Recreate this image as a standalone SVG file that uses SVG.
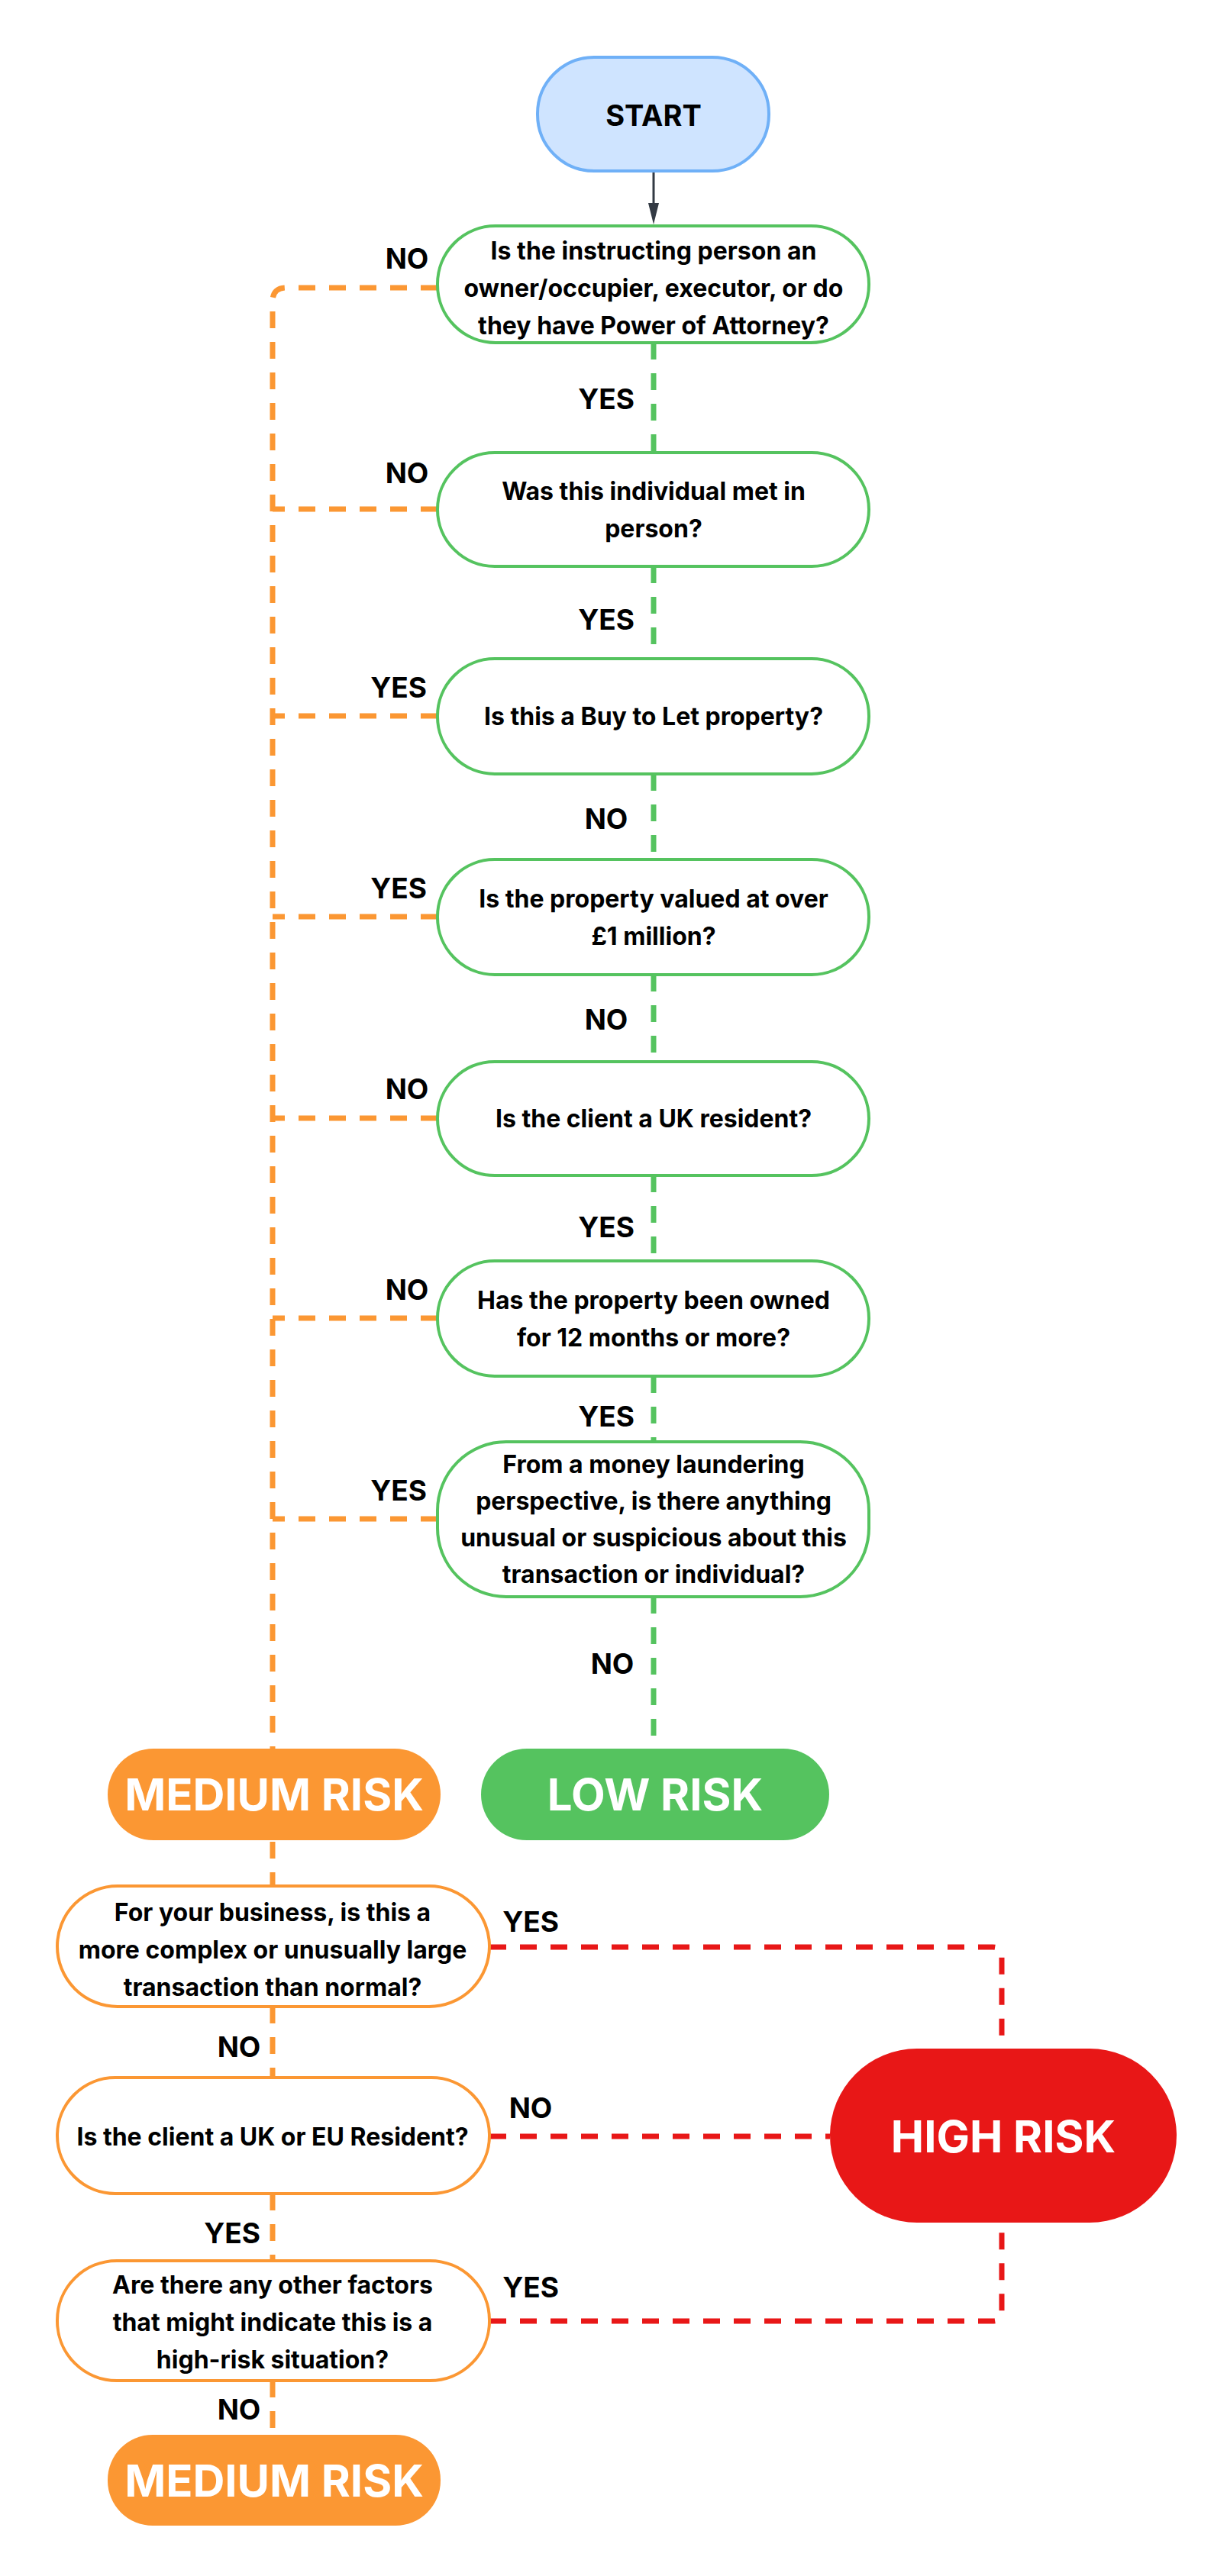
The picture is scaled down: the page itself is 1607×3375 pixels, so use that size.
<svg xmlns="http://www.w3.org/2000/svg" width="1607" height="3375" viewBox="0 0 1607 3375">
<style>
text{font-family:Inter,"Liberation Sans",sans-serif;font-weight:700;fill:#000;text-anchor:middle;dominant-baseline:central}
.q{font-size:32px}
.lb{font-size:37px}
.big{font-size:58px;fill:#fff}
.g{fill:#fff;stroke:#55c35f;stroke-width:4}
.o{fill:#fff;stroke:#fb9733;stroke-width:4}
.cg{fill:none;stroke:#55c35f;stroke-width:7;stroke-dasharray:22 18}
.co{fill:none;stroke:#fb9733;stroke-width:7;stroke-dasharray:22 18}
.cr{fill:none;stroke:#e81717;stroke-width:7;stroke-dasharray:22 18}
</style>
<rect width="1607" height="3375" fill="#fff"/>
<g id="connectors">
<path d="M856,226V272" stroke="#333a44" stroke-width="3" fill="none"/>
<path d="M849,266L856,294L863,266z" fill="#333a44"/>
<path class="cg" d="M856,449V593M856,742V863M856,1014V1126M856,1277V1391M856,1540V1652M856,1803V1889M856,2092V2291"/>
<path class="co" d="M573,377H375Q357,377 357,395V2291"/>
<path class="co" d="M573,667H357M573,938H357M573,1201H357M573,1465H357M573,1727H357M573,1990H357"/>
<path class="co" d="M357,2413V2471M357,2629V2722M357,2874V2962M357,3119V3190"/>
<path class="cr" d="M641,2551H1300Q1312,2551 1312,2563V2684M641,2799H1087M641,3041H1300Q1312,3041 1312,3029V2912"/>
</g>
<g id="start"><rect x="704" y="75" width="303" height="149" rx="74" fill="#cfe4ff" stroke="#6fb0f7" stroke-width="4"/><text x="856" y="151" style="font-size:38px">START</text></g>
<g id="q1"><rect class="g" x="573" y="296" width="565" height="153" rx="76"/><text class="q" x="856" y="328">Is the instructing person an</text><text class="q" x="856" y="377">owner/occupier, executor, or do</text><text class="q" x="856" y="426">they have Power of Attorney?</text></g>
<g id="q2"><rect class="g" x="573" y="593" width="565" height="149" rx="75"/><text class="q" x="856" y="643">Was this individual met in</text><text class="q" x="856" y="692">person?</text></g>
<g id="q3"><rect class="g" x="573" y="863" width="565" height="151" rx="75"/><text class="q" x="856" y="938">Is this a Buy to Let property?</text></g>
<g id="q4"><rect class="g" x="573" y="1126" width="565" height="151" rx="75"/><text class="q" x="856" y="1177">Is the property valued at over</text><text class="q" x="856" y="1226">£1 million?</text></g>
<g id="q5"><rect class="g" x="573" y="1391" width="565" height="149" rx="75"/><text class="q" x="856" y="1465">Is the client a UK resident?</text></g>
<g id="q6"><rect class="g" x="573" y="1652" width="565" height="151" rx="75"/><text class="q" x="856" y="1703">Has the property been owned</text><text class="q" x="856" y="1752">for 12 months or more?</text></g>
<g id="q7"><rect class="g" x="573" y="1889" width="565" height="203" rx="90"/><text class="q" x="856" y="1918">From a money laundering</text><text class="q" x="856" y="1966">perspective, is there anything</text><text class="q" x="856" y="2014">unusual or suspicious about this</text><text class="q" x="856" y="2062">transaction or individual?</text></g>
<g id="medium1"><rect x="141" y="2291" width="436" height="120" rx="60" fill="#fb9733"/><text class="big" x="359" y="2351">MEDIUM RISK</text></g>
<g id="low"><rect x="630" y="2291" width="456" height="120" rx="60" fill="#55c35f"/><text class="big" x="858" y="2351">LOW RISK</text></g>
<g id="q8"><rect class="o" x="75" y="2471" width="566" height="158" rx="79"/><text class="q" x="357" y="2505">For your business, is this a</text><text class="q" x="357" y="2554">more complex or unusually large</text><text class="q" x="357" y="2603">transaction than normal?</text></g>
<g id="q9"><rect class="o" x="75" y="2722" width="566" height="152" rx="76"/><text class="q" x="357" y="2799">Is the client a UK or EU Resident?</text></g>
<g id="q10"><rect class="o" x="75" y="2962" width="566" height="157" rx="78"/><text class="q" x="357" y="2993">Are there any other factors</text><text class="q" x="357" y="3042">that might indicate this is a</text><text class="q" x="357" y="3091">high-risk situation?</text></g>
<g id="high"><rect x="1087" y="2684" width="454" height="228" rx="114" fill="#e81717"/><text class="big" x="1314" y="2799">HIGH RISK</text></g>
<g id="medium2"><rect x="141" y="3190" width="436" height="119" rx="59" fill="#fb9733"/><text class="big" x="359" y="3250">MEDIUM RISK</text></g>
<g id="labels">
<text class="lb" x="533" y="338">NO</text>
<text class="lb" x="794" y="522">YES</text>
<text class="lb" x="533" y="619">NO</text>
<text class="lb" x="794" y="811">YES</text>
<text class="lb" x="522" y="900">YES</text>
<text class="lb" x="794" y="1072">NO</text>
<text class="lb" x="522" y="1163">YES</text>
<text class="lb" x="794" y="1335">NO</text>
<text class="lb" x="533" y="1426">NO</text>
<text class="lb" x="794" y="1607">YES</text>
<text class="lb" x="533" y="1689">NO</text>
<text class="lb" x="794" y="1855">YES</text>
<text class="lb" x="522" y="1952">YES</text>
<text class="lb" x="802" y="2179">NO</text>
<text class="lb" x="695" y="2517">YES</text>
<text class="lb" x="313" y="2681">NO</text>
<text class="lb" x="695" y="2761">NO</text>
<text class="lb" x="304" y="2925">YES</text>
<text class="lb" x="695" y="2996">YES</text>
<text class="lb" x="313" y="3156">NO</text>
</g>
</svg>
